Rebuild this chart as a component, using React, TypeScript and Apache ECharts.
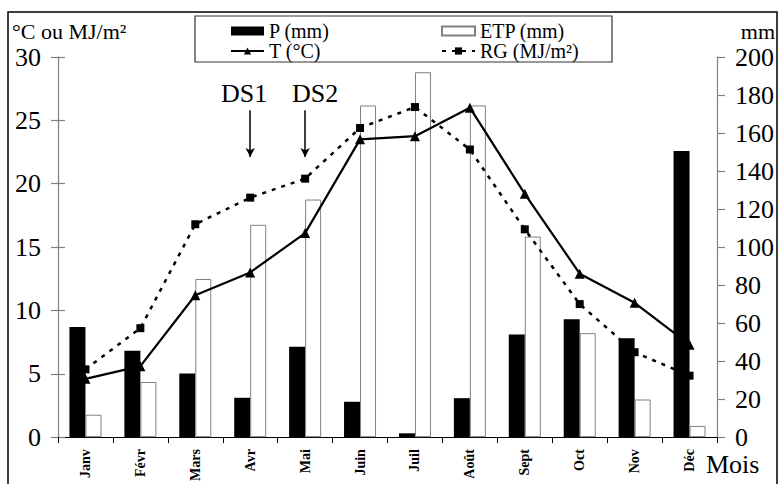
import React, { useEffect, useRef } from "react";
import * as echarts from "echarts";

const months = ["Janv", "Févr", "Mars", "Avr", "Mai", "Juin", "Juil", "Août", "Sept", "Oct", "Nov", "Déc"];
const precip = [58, 45.5, 33.5, 20.7, 47.5, 18.6, 2, 20.5, 54, 62, 52, 150.5];
const etp = [11.8, 29, 83.2, 111.7, 125, 174.5, 192, 174.5, 105.5, 54.7, 19.8, 5.9];
const temp = [4.6, 5.6, 11.2, 13.0, 16.1, 23.5, 23.75, 26.0, 19.2, 12.9, 10.6, 7.3];
const rg = [5.35, 8.6, 16.8, 18.9, 20.4, 24.4, 26.05, 22.7, 16.4, 10.5, 6.7, 4.85];

const dsLabels = ["DS1", "DS2"];
const dsMonths = ["Avr", "Mai"];
const dsFrom = 25.8;
const dsTo = 22.1;

const leftTitle = "°C ou MJ/m²";
const rightTitle = "mm";
const xTitle = "Mois";

const FONT = "Liberation Serif";
const DS_SHIFT = [-6, 10];

export default function App() {
  const ref = useRef<HTMLDivElement>(null);
  useEffect(() => {
    if (!ref.current) return;
    const chart = echarts.init(ref.current, null, { renderer: "svg" });
    const legendText = { fontFamily: FONT, fontSize: 20, color: "#000", lineHeight: 17 };
    const option: any = {
      animation: false,
      backgroundColor: "#ffffff",
      textStyle: { fontFamily: FONT, color: "#000" },
      grid: { left: 58, right: 62, top: 57, bottom: 44, containLabel: false },
      legend: [
        {
          data: [{ name: "P (mm)", icon: "rect" }, { name: "T (°C)" }],
          orient: "vertical",
          left: 225,
          top: 16,
          itemWidth: 33,
          itemHeight: 9,
          itemGap: 0,
          textStyle: legendText,
        },
        {
          data: [{ name: "ETP (mm)", icon: "rect" }, { name: "RG (MJ/m²)" }],
          orient: "vertical",
          left: 436,
          top: 16,
          itemWidth: 33,
          itemHeight: 9,
          itemGap: 0,
          textStyle: legendText,
        },
      ],
      xAxis: {
        type: "category",
        data: months,
        boundaryGap: true,
        axisLine: { lineStyle: { color: "#000", width: 1 } },
        axisTick: { show: true, length: 6, lineStyle: { color: "#000" } },
        axisLabel: {
          rotate: 90,
          margin: 12,
          fontFamily: FONT,
          fontSize: 14,
          fontWeight: "bold",
          color: "#000",
        },
        splitLine: { show: false },
      },
      yAxis: [
        {
          type: "value",
          position: "left",
          min: 0,
          max: 30,
          interval: 5,
          axisLine: { show: true, lineStyle: { color: "#808080", width: 1.2 } },
          axisTick: { show: true, length: 7, lineStyle: { color: "#808080", width: 1.2 } },
          axisLabel: { margin: 17, fontFamily: FONT, fontSize: 26, color: "#000" },
          splitLine: { show: false },
        },
        {
          type: "value",
          position: "right",
          min: 0,
          max: 200,
          interval: 20,
          axisLine: { show: true, lineStyle: { color: "#808080", width: 1.2 } },
          axisTick: { show: true, length: 8, lineStyle: { color: "#808080", width: 1.2 } },
          axisLabel: { margin: 18, fontFamily: FONT, fontSize: 26, color: "#000" },
          splitLine: { show: false },
        },
        {
          type: "value",
          position: "left",
          min: 0,
          max: 30,
          interval: 5,
          axisLine: { show: false },
          axisTick: { show: true, inside: true, length: 7, lineStyle: { color: "#808080", width: 1.2 } },
          axisLabel: { show: false },
          splitLine: { show: false },
        },
      ],
      series: [
        {
          name: "P (mm)",
          type: "bar",
          yAxisIndex: 1,
          data: precip,
          barWidth: 16,
          barGap: "0%",
          itemStyle: { color: "#000" },
        },
        {
          name: "ETP (mm)",
          type: "bar",
          yAxisIndex: 1,
          data: etp,
          barWidth: 16,
          barGap: "0%",
          itemStyle: { color: "#fff", borderColor: "#808080", borderWidth: 1 },
        },
        {
          name: "T (°C)",
          type: "line",
          yAxisIndex: 0,
          data: temp,
          symbol: "triangle",
          symbolSize: 10,
          itemStyle: { color: "#000" },
          lineStyle: { color: "#000", width: 2.2 },
          z: 5,
          markLine: {
            silent: true,
            symbol: ["none", "arrow"],
            symbolSize: [7, 9],
            lineStyle: { color: "#000", width: 1.5, type: "solid" },
            label: {
              show: true,
              position: "start",
              distance: 4,
              fontFamily: FONT,
              fontSize: 26,
              color: "#000",
              formatter: (p: any) => p.name,
            },
            data: dsMonths.map((m, i) => [
              { name: dsLabels[i], coord: [m, dsFrom], label: { offset: [DS_SHIFT[i], 0] } },
              { coord: [m, dsTo] },
            ]),
          },
        },
        {
          name: "RG (MJ/m²)",
          type: "line",
          yAxisIndex: 0,
          data: rg,
          symbol: "rect",
          symbolSize: 8,
          itemStyle: { color: "#000" },
          lineStyle: { color: "#000", width: 2.5, type: [4, 6] },
          z: 4,
        },
      ],
      graphic: [
        {
          type: "rect",
          shape: { x: 8, y: 12, width: 769, height: 490 },
          style: { fill: "none", stroke: "#000", lineWidth: 1.5 },
          silent: true,
          z: -10,
        },
        {
          type: "rect",
          shape: { x: 195, y: 16, width: 417, height: 46 },
          style: { fill: "none", stroke: "#333", lineWidth: 1.2 },
          silent: true,
        },
        {
          type: "text",
          left: 12,
          top: 20,
          style: { text: leftTitle, fontFamily: FONT, fontSize: 22, fill: "#000" },
        },
        {
          type: "text",
          right: 4,
          top: 20,
          style: { text: rightTitle, fontFamily: FONT, fontSize: 22, fill: "#000" },
        },
        {
          type: "text",
          left: 706,
          top: 451,
          style: { text: xTitle, fontFamily: FONT, fontSize: 26, fill: "#000" },
        },
      ],
    };
    chart.setOption(option);
    return () => chart.dispose();
  }, []);
  return (
    <div
      ref={ref}
      style={{ position: "absolute", left: 0, top: 0, width: 779, height: 484 }}
    />
  );
}
